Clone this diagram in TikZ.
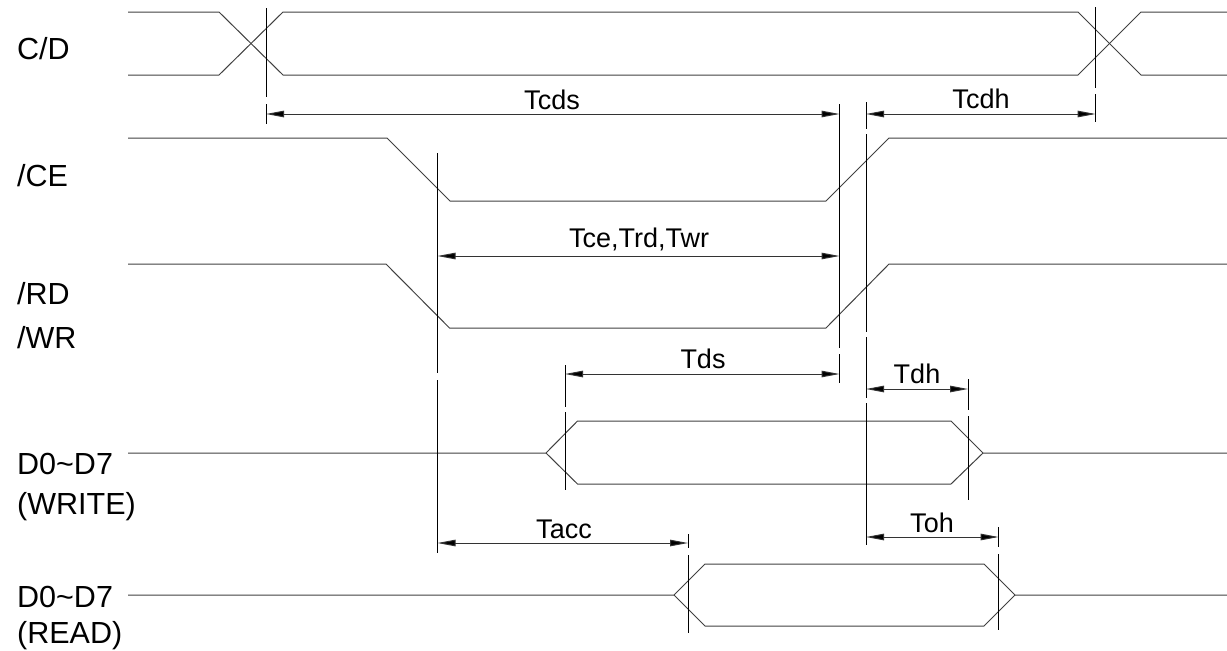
\documentclass[tikz,border=0pt]{standalone}
\usepackage{fontspec}
\setmainfont{Liberation Sans}
\usetikzlibrary{arrows.meta}
\begin{document}
\begin{tikzpicture}[x=1pt,y=-1pt,
  sig/.style={line width=1pt, draw=black!75},
  dim/.style={line width=1pt, draw=black},
  dimarrow/.style={line width=1pt, draw=black!80, {Triangle[length=18pt,width=6.5pt,fill=black]}-{Triangle[length=18pt,width=6.5pt,fill=black]}},
  lbl/.style={anchor=base west, inner sep=0pt, font=\fontsize{30.5}{35}\selectfont},
  tlbl/.style={anchor=base, inner sep=0pt, font=\fontsize{27}{30}\selectfont}]
\useasboundingbox (0,0) rectangle (1227,651);

% left labels
\node[lbl] (lcd) at (17,59) {C/D};
\node[lbl] (lce) at (17,186) {/CE};
\node[lbl] (lrd) at (17,304) {/RD};
\node[lbl] (lwr) at (17,348) {/WR};
\node[lbl] (ld1) at (17,474) {D0\textasciitilde D7};
\node[lbl] (lw)  at (17,514) {(WRITE)};
\node[lbl] (ld2) at (17,607) {D0\textasciitilde D7};
\node[lbl] (lr)  at (17,643) {(READ)};

% signals
\draw[sig] (128,12) -- (219,12) -- (283,75) -- (1078,75) -- (1141,12) -- (1227,12);
\draw[sig] (128,75) -- (219,75) -- (283,12) -- (1078,12) -- (1141,75) -- (1227,75);
\draw[sig] (128,138) -- (387,138) -- (450,201) -- (826,201) -- (889,138) -- (1227,138);
\draw[sig] (128,264) -- (386,264) -- (449.5,328) -- (826,328) -- (889,264) -- (1227,264);
\draw[sig] (128,453) -- (546,453) -- (577.5,421) -- (951,421) -- (983,453) -- (1227,453);
\draw[sig] (546,453) -- (577.5,484) -- (951,484) -- (983,453);
\draw[sig] (128,595) -- (674,595) -- (705,564) -- (984,564) -- (1015,595) -- (1227,595);
\draw[sig] (674,595) -- (705,626) -- (984,626) -- (1015,595);

% extension lines
\draw[dim] (266,8) -- (266,97) (266,104) -- (266,124);
\draw[dim] (1095.6,7) -- (1095.6,88) (1095.6,94) -- (1095.6,122);
\draw[dim] (839.5,104) -- (839.5,348) (839.5,354) -- (839.5,383);
\draw[dim] (866,102) -- (866,129) (866,134) -- (866,332) (866,337) -- (866,398) (866,403) -- (866,545);
\draw[dim] (437.5,153) -- (437.5,373) (437.5,380) -- (437.5,553);
\draw[dim] (565,365) -- (565,407) (565,412) -- (565,490);
\draw[dim] (968,379) -- (968,410) (968,416) -- (968,500);
\draw[dim] (688,534) -- (688,548) (688,555) -- (688,633);
\draw[dim] (998.6,527) -- (998.6,547) (998.6,554) -- (998.6,630);

% arrow end points
\coordinate (cdsL) at (266,114);   \coordinate (cdsR) at (839.5,114);
\coordinate (cdhL) at (866,114);   \coordinate (cdhR) at (1095.6,114);
\coordinate (ceL)  at (437.5,256); \coordinate (ceR)  at (839.5,256);
\coordinate (dsL)  at (565,374);   \coordinate (dsR)  at (839.5,374);
\coordinate (dhL)  at (866,389);   \coordinate (dhR)  at (968,389);
\coordinate (accL) at (437.5,543); \coordinate (accR) at (688,543);
\coordinate (ohL)  at (866,537);   \coordinate (ohR)  at (998.6,537);

\draw[dimarrow] (cdsL) -- (cdsR);
\draw[dimarrow] (cdhL) -- (cdhR);
\draw[dimarrow] (ceL) -- (ceR);
\draw[dimarrow] (dsL) -- (dsR);
\draw[dimarrow] (dhL) -- (dhR);
\draw[dimarrow] (accL) -- (accR);
\draw[dimarrow] (ohL) -- (ohR);

% timing labels
\node[tlbl] (tcds) at (552,109) {Tcds};
\node[tlbl] (tcdh) at (981,108) {Tcdh};
\node[tlbl] (tce)  at (639,247) {Tce,Trd,Twr};
\node[tlbl] (tds)  at (703,368) {Tds};
\node[tlbl] (tdh)  at (917,383) {Tdh};
\node[tlbl] (tacc) at (564,538) {Tacc};
\node[tlbl] (toh)  at (932,532) {Toh};
\end{tikzpicture}
\end{document}
